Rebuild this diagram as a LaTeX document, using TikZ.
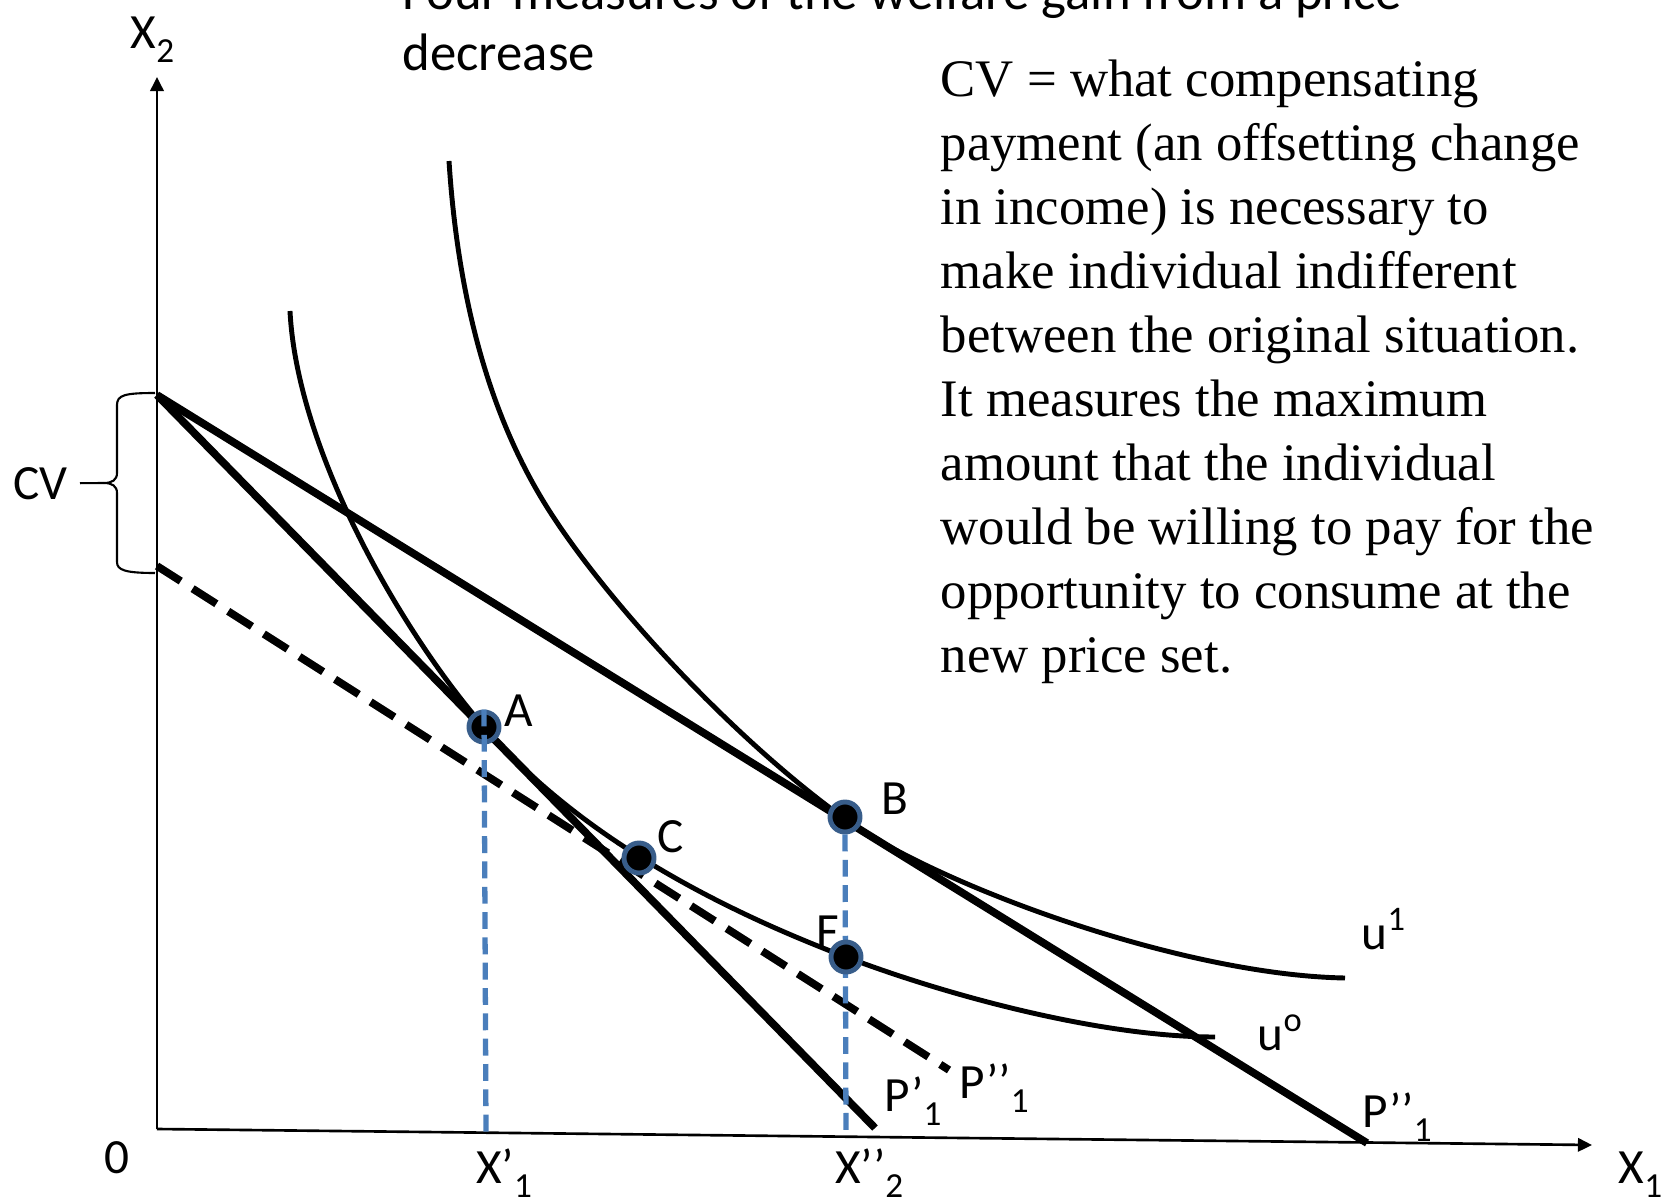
\documentclass[tikz,border=0pt]{standalone}
\usepackage{fontspec}
\setmainfont{Liberation Serif}
\newfontfamily\calib{Carlito}
\usetikzlibrary{arrows.meta}
\definecolor{PPTBlue}{RGB}{74,126,187}
\definecolor{PPTEdge}{RGB}{56,93,138}
\newcommand{\lowsub}[1]{\raisebox{-4pt}{\fontsize{10}{10}\selectfont #1}}

\begin{document}
\begin{tikzpicture}[x=0.01cm, y=-0.01cm,
    axis/.style={line width=0.75pt, -{Triangle[length=4pt, width=3.8pt]}},
    budget/.style={line width=2.2pt},
    cut/.style={line width=2.2pt, dash pattern=on 8pt off 4pt},
    icurve/.style={line width=1.4pt},
    drop/.style={PPTBlue, line width=1.5pt, dash pattern=on 4.8pt off 2.4pt},
    eqpt/.style={circle, fill=black, draw=PPTEdge, line width=1.4pt,
                 minimum size=0.3cm, inner sep=0pt},
    lbl/.style={font=\calib\fontsize{14}{17}\selectfont, inner sep=0pt, anchor=base west},
    brace/.style={line width=0.6pt}
  ]
  \useasboundingbox (0,0) rectangle (1675,1200);

  % axes
  \coordinate (O)    at (157,1129);
  \coordinate (ytop) at (157,77);
  \coordinate (xend) at (1592,1145);
  \draw[axis] (O) -- (ytop);
  \draw[axis] (O) -- (xend);

  % intercepts and ends of the price lines
  \coordinate (I0) at (157,395);
  \coordinate (I1) at (157,566);
  \coordinate (p1) at (875,1128);
  \coordinate (p2) at (1367,1143);
  \coordinate (p3) at (949,1070);

  % indifference curves
  \draw[icurve] (290,311) .. controls (297,450) and (400,630) .. (484,727)
      .. controls (564,819) and (685,896) .. (846,957)
      .. controls (946,995) and (1100,1037) .. (1215,1037);
  \draw[icurve] (449,161) .. controls (458,300) and (490,420) .. (552,515)
      .. controls (612,607) and (735,740) .. (845,819)
      .. controls (935,884) and (1180,975) .. (1345,978);

  % price lines
  \draw[budget] (I0) -- (p1);
  \draw[budget] (I0) -- (p2);
  \draw[cut] (I1) -- (p3);

  % points
  \coordinate (xa) at (486,1133);
  \coordinate (xb) at (846,1137);
  \node[eqpt] (B) at (845,817) {};
  \draw[drop] (B) -- (xb);
  \node[eqpt] (A) at (484,727) {};
  \node[eqpt] (C) at (639,858) {};
  \node[eqpt] (F) at (846,957) {};
  \draw[drop] (A.north) -- (xa);

  % CV brace
  \coordinate (cvtip) at (104,483);
  \draw[brace] (155,393) .. controls (125,393) and (117,395) .. (117,405) -- (117,473)
      .. controls (117,480) and (112,483) .. (cvtip)
      .. controls (112,483) and (117,486) .. (117,493) -- (117,562)
      .. controls (117,570) and (125,573) .. (155,573);
  \node[lbl, anchor=base east, inner sep=3.4pt] (cvlab) at (80,499) {CV};
  \draw[brace] (cvtip) -- (cvlab.east);

  % labels
  \node[lbl] (x2lab) at (130,48)    {X\lowsub{2}};
  \node[lbl] (zero)  at (104,1173)  {0};
  \node[lbl] (x1lab) at (1618,1183) {X\lowsub{1}};
  \node[lbl] (xalab) at (476,1183)  {X’\lowsub{1}};
  \node[lbl] (xblab) at (835,1183)  {X’’\lowsub{2}};
  \node[lbl] (p1lab) at (884,1111)  {P’\lowsub{1}};
  \node[lbl] (p3lab) at (959,1098)  {P’’\lowsub{1}};
  \node[lbl] (p2lab) at (1362,1127) {P’’\lowsub{1}};
  \node[lbl] (u1lab) at (1361,949)  {u\textsuperscript{1}};
  \node[lbl] (u0lab) at (1257,1050) {u\textsuperscript{o}};
  \node[lbl] (Alab)  at (504,726)   {A};
  \node[lbl] (Blab)  at (881,814)   {B};
  \node[lbl] (Clab)  at (657,852)   {C};
  \node[lbl] (Flab)  at (816,947)   {F};

  % title and note
  \node[font=\calib\fontsize{15}{17.4}\selectfont, align=left, inner sep=0pt,
        anchor=south west] (title) at (402,72)
        {Four measures of the welfare gain from a price\\decrease};
  \node[font=\fontsize{15}{18.2}\selectfont, align=left, inner sep=0pt,
        anchor=north west] (note) at (940,59)
        {CV = what compensating\\
         payment (an offsetting change\\
         in income) is necessary to\\
         make individual indifferent\\
         between the original situation.\\
         It measures the maximum\\
         amount that the individual\\
         would be willing to pay for the\\
         opportunity to consume at the\\
         new price set.};
\end{tikzpicture}
\end{document}
